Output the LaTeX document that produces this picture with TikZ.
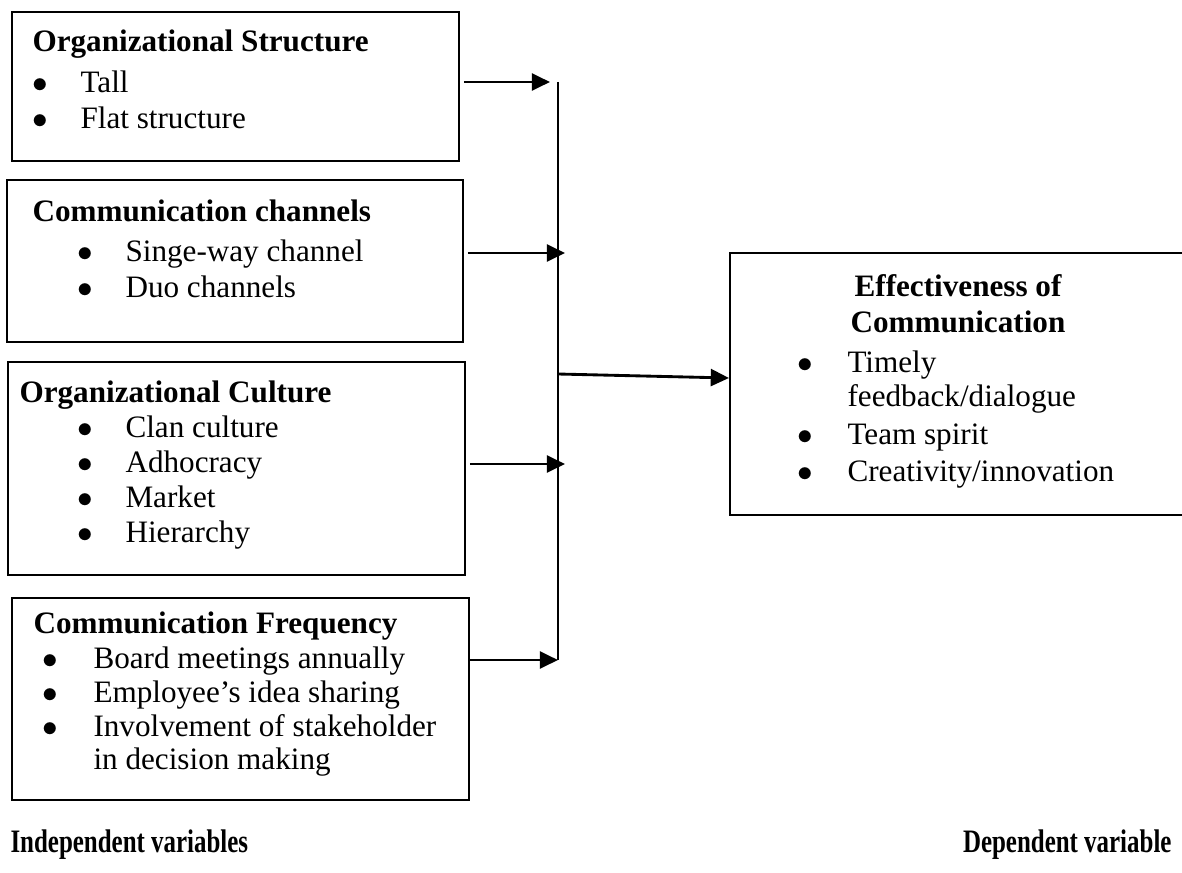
\documentclass[tikz,border=0pt]{standalone}
\usepackage{fontspec}
\setmainfont{Liberation Serif}
\usetikzlibrary{arrows.meta,fit}

\begin{document}
\begin{tikzpicture}[
  x=0.385pt, y=-0.385pt,
  font=\fontsize{12pt}{13.8pt}\selectfont,
  box/.style={draw,line width=0.8pt,inner sep=0pt},
  head/.style={anchor=base west,inner sep=0pt,font=\fontsize{12pt}{13.8pt}\selectfont\bfseries},
  item/.style={anchor=base west,inner sep=0pt},
  dot/.style={anchor=base,inner sep=0pt},
  caption/.style={font=\fontsize{12pt}{13.8pt}\selectfont\bfseries,inner sep=0pt},
  link/.style={-{Triangle[length=7pt,width=6.5pt]},line width=1.1pt},
  bus/.style={line width=0.8pt}]

  \useasboundingbox (0,0) rectangle (1182,872);

  % Boxes of the independent variables
  \node[box,fit={(12,12) (459,161)}] (ostruct) {};
  \node[head] (ostructT) at (32,52) {Organizational Structure};
  \node[dot] (b11) at (40,92) {$\bullet$};
  \node[item] (i11) at (80,92) {Tall};
  \node[dot] (b12) at (40,129) {$\bullet$};
  \node[item] (i12) at (80,129) {Flat structure};

  \node[box,fit={(7,180) (463,342)}] (cchan) {};
  \node[head] (cchanT) at (32,221) {Communication channels};
  \node[dot] (b21) at (85,261) {$\bullet$};
  \node[item] (i21) at (125,261) {Singe-way channel};
  \node[dot] (b22) at (85,297) {$\bullet$};
  \node[item] (i22) at (125,297) {Duo channels};

  \node[box,fit={(8,362) (465,575)}] (oculture) {};
  \node[head] (ocultureT) at (19,402) {Organizational Culture};
  \node[dot] (b31) at (85,437) {$\bullet$};
  \node[item] (i31) at (125,437) {Clan culture};
  \node[dot] (b32) at (85,472) {$\bullet$};
  \node[item] (i32) at (125,472) {Adhocracy};
  \node[dot] (b33) at (85,507) {$\bullet$};
  \node[item] (i33) at (125,507) {Market};
  \node[dot] (b34) at (85,542) {$\bullet$};
  \node[item] (i34) at (125,542) {Hierarchy};

  \node[box,fit={(12,598) (469,800)}] (cfreq) {};
  \node[head] (cfreqT) at (33,633) {Communication Frequency};
  \node[dot] (b41) at (50,668) {$\bullet$};
  \node[item] (i41) at (93,668) {Board meetings annually};
  \node[dot] (b42) at (50,702) {$\bullet$};
  \node[item] (i42) at (93,702) {Employee’s idea sharing};
  \node[dot] (b43) at (50,736) {$\bullet$};
  \node[item] (i43) at (93,736) {Involvement of stakeholder};
  \node[item] (i44) at (93,769) {in decision making};

  % Box of the dependent variable
  \node[box,fit={(730,253) (1200,515)}] (effect) {};
  \node[caption,anchor=base] (effectT1) at (958,296) {Effectiveness of};
  \node[caption,anchor=base] (effectT2) at (958,332) {Communication};
  \node[dot] (b51) at (805,372) {$\bullet$};
  \node[item] (i51) at (847,372) {Timely};
  \node[item] (i52) at (847,406) {feedback/dialogue};
  \node[dot] (b53) at (805,444) {$\bullet$};
  \node[item] (i53) at (847,444) {Team spirit};
  \node[dot] (b54) at (805,481) {$\bullet$};
  \node[item] (i54) at (847,481) {Creativity/innovation};

  % Collecting line and the arrows into it
  \coordinate (top) at (558,82);
  \coordinate (bot) at (558,660);
  \coordinate (j1) at (550,82);
  \coordinate (j2) at (565,253);
  \coordinate (j3) at (565,464);
  \coordinate (j4) at (558,660);
  \coordinate (jm) at (558,374);
  \draw[bus] (top) -- (bot);

  \draw[link] ([xshift=1.5pt]ostruct.east |- j1) -- (j1);
  \draw[link] ([xshift=1.5pt]cchan.east |- j2) -- (j2);
  \draw[link] ([xshift=1.5pt]oculture.east |- j3) -- (j3);
  \draw[link] (cfreq.east |- j4) -- (j4);
  \draw[link] (jm) -- ([yshift=-4*0.385pt]effect.west |- jm);

  % Captions
  \node[caption,anchor=west] (indep) at (10,845) {\scalebox{0.8}[1.05]{Independent variables}};
  \node[caption,anchor=east] (dep) at (1172,845) {\scalebox{0.8}[1.05]{Dependent variable}};

\end{tikzpicture}
\end{document}
